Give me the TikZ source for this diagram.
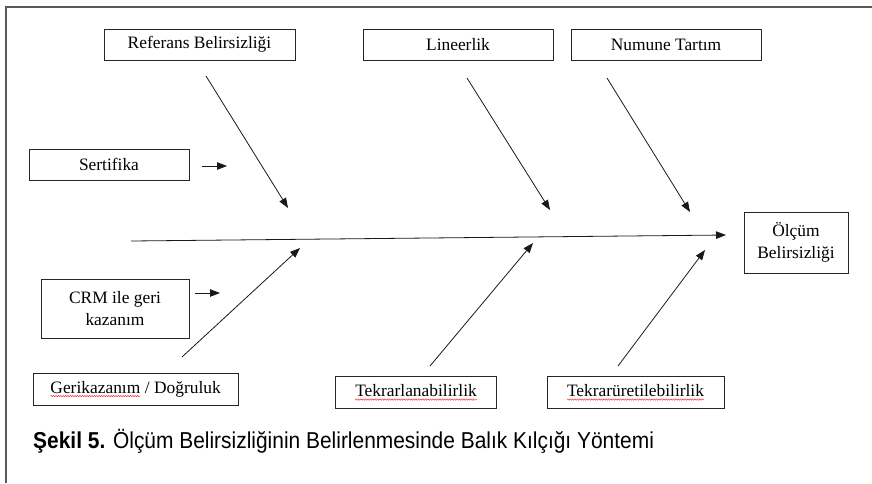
\documentclass[tikz,border=0pt]{standalone}
\usepackage{fontspec}
\setmainfont{Liberation Serif}
\newfontfamily\capfont[FakeStretch=0.91]{Liberation Sans}
\usetikzlibrary{arrows.meta,decorations.pathmorphing}
\tikzset{
  box/.style={draw=black!85, line width=0.9pt, align=center, font=\fontsize{17.4}{22}\selectfont, inner sep=0pt},
  arr/.style={draw=black!90, line width=0.8pt, -{Triangle[length=10pt,width=7.5pt]}},
  framel/.style={draw=black!65, line width=2pt},
  squig/.style={draw=red!80, line width=0.5pt, decorate, decoration={snake,amplitude=0.7pt,segment length=2.4pt}}
}
\newcommand\sqw[1]{\tikz[baseline=(w.base)]{\node[inner sep=0pt,outer sep=0pt,minimum width=0pt,minimum height=0pt,draw=none](w){#1};\draw[squig]([yshift=-3pt]w.base west)--([yshift=-3pt]w.base east);}}
\begin{document}
\begin{tikzpicture}[x=1pt,y=-1pt]
\useasboundingbox (0,0) rectangle (872,483);
\draw[framel] (5.5,483) -- (5.5,6.5) -- (872,6.5);
% boxes
\node[box,minimum width=191pt,minimum height=31pt] (ref) at (199.5,44.5) {Referans Belirsizliği};
\node[box,minimum width=190pt,minimum height=31pt] (lin) at (458,44.5) {Lineerlik};
\node[box,minimum width=190pt,minimum height=31pt] (num) at (666,44.5) {Numune Tartım};
\node[box,minimum width=160pt,minimum height=31pt] (sert) at (109,164.5) {Sertifika};
\node[box,minimum width=148pt,minimum height=59pt] (crm) at (115,308.5) {CRM ile geri\\kazanım};
\node[box,minimum width=205pt,minimum height=32pt] (ger) at (135.5,389) {\sqw{Gerikazanım} / Doğruluk};
\node[box,minimum width=161pt,minimum height=32pt] (tekl) at (416,392.5) {\sqw{Tekrarlanabilirlik}};
\node[box,minimum width=177pt,minimum height=32pt] (teku) at (635.5,392.5) {\sqw{Tekrarüretilebilirlik}};
\node[box,minimum width=104pt,minimum height=61pt] (olc) at (796,242.5) {Ölçüm\\Belirsizliği};
% connector coordinates
\coordinate (refS) at (206,76);   \coordinate (refE) at (288,208);
\coordinate (linS) at (467,78);   \coordinate (linE) at (550,210);
\coordinate (numS) at (607,78);   \coordinate (numE) at (690,212);
\coordinate (sertS) at (202,166); \coordinate (sertE) at (227,166);
\coordinate (crmS) at (195,293);  \coordinate (crmE) at (220,293);
\coordinate (mainS) at (131,241); \coordinate (mainE) at (726,235);
\coordinate (gerS) at (182,357);  \coordinate (gerE) at (300,248);
\coordinate (teklS) at (430,366); \coordinate (teklE) at (533,243);
\coordinate (tekuS) at (618,366); \coordinate (tekuE) at (705,250);
\draw[arr] (refS) -- (refE);
\draw[arr] (linS) -- (linE);
\draw[arr] (numS) -- (numE);
\draw[arr] (sertS) -- (sertE);
\draw[arr] (crmS) -- (crmE);
\draw[arr] (mainS) -- (mainE);
\draw[arr] (gerS) -- (gerE);
\draw[arr] (teklS) -- (teklE);
\draw[arr] (tekuS) -- (tekuE);
% caption
\node[anchor=base west, inner sep=0pt, font=\capfont\fontsize{23}{23}\selectfont] (cap) at (33,448) {\textbf{Şekil 5.} Ölçüm Belirsizliğinin Belirlenmesinde Balık Kılçığı Yöntemi};
\end{tikzpicture}
\end{document}
